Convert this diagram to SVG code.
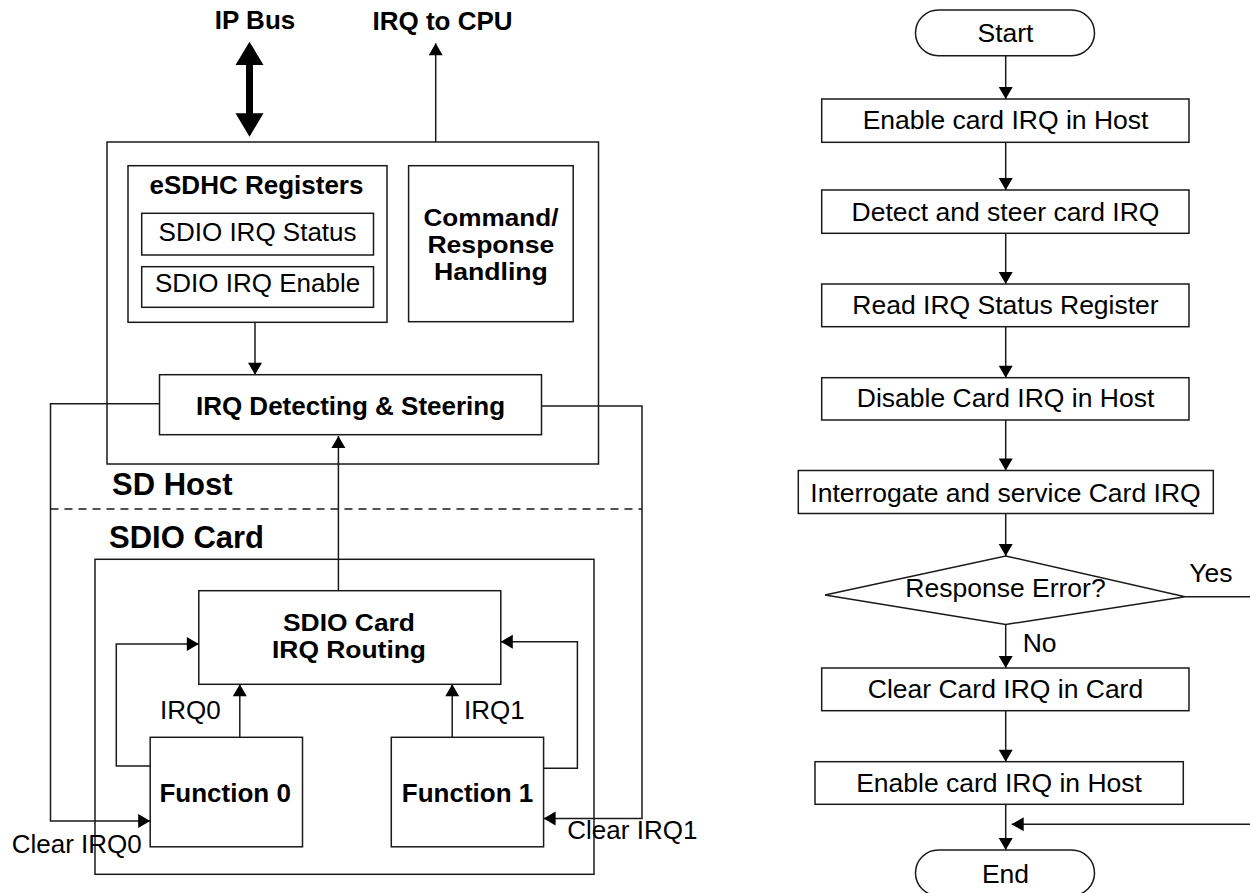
<svg xmlns="http://www.w3.org/2000/svg" width="1250" height="893" viewBox="0 0 1250 893">
<defs>
<marker id="ah" markerUnits="userSpaceOnUse" markerWidth="12" markerHeight="14" refX="12" refY="7" orient="auto" overflow="visible">
<path d="M0,0 L12,7 L0,14 z" fill="#000"/>
</marker>
<style>
.b{fill:#fff;stroke:#1a1a1a;stroke-width:1.5}
.w{fill:none;stroke:#1a1a1a;stroke-width:1.5}
.a{fill:none;stroke:#1a1a1a;stroke-width:1.5;marker-end:url(#ah)}
.t{font-family:"Liberation Sans",Arial,sans-serif;font-size:26px;fill:#000}
.tb{font-family:"Liberation Sans",Arial,sans-serif;font-size:26px;font-weight:bold;fill:#000}
.tm{font-family:"Liberation Sans",Arial,sans-serif;font-size:23px;font-weight:bold;fill:#000}
.tl{font-family:"Liberation Sans",Arial,sans-serif;font-size:31px;font-weight:bold;fill:#000}
.f{font-family:"Liberation Sans",Arial,sans-serif;font-size:26.5px;fill:#000}
.m{text-anchor:middle}
</style>
</defs>
<rect width="1250" height="893" fill="#fff"/>

<!-- Left block diagram -->
<g id="labels-top">
<text class="tb m" x="255" y="29">IP Bus</text>
<text class="tb m" x="442.5" y="30">IRQ to CPU</text>
</g>
<g id="sd-host">
<rect class="b" x="107" y="142" width="491.5" height="322"/>
<text class="tl" x="112" y="495">SD Host</text>
</g>
<g id="esdhc-registers">
<rect class="b" x="128" y="165.7" width="259" height="156.6"/>
<text class="tb m" x="256.5" y="193.5">eSDHC Registers</text>
</g>
<g id="sdio-irq-status">
<rect class="b" x="141.7" y="213.3" width="231.8" height="41.7"/>
<text class="t m" x="257.6" y="240.7">SDIO IRQ Status</text>
</g>
<g id="sdio-irq-enable">
<rect class="b" x="141.7" y="266.7" width="231.8" height="40.6"/>
<text class="t m" x="257.6" y="292.3">SDIO IRQ Enable</text>
</g>
<g id="command-response">
<rect class="b" x="408.6" y="165.7" width="164.6" height="156"/>
<text class="tm m" x="490.9" y="226" textLength="135" lengthAdjust="spacingAndGlyphs">Command/</text>
<text class="tm m" x="490.9" y="253" textLength="127" lengthAdjust="spacingAndGlyphs">Response</text>
<text class="tm m" x="490.9" y="280" textLength="114" lengthAdjust="spacingAndGlyphs">Handling</text>
</g>
<g id="irq-detecting">
<rect class="b" x="159.5" y="374.7" width="382" height="60"/>
<text class="tb m" x="350.5" y="415">IRQ Detecting &amp; Steering</text>
</g>
<g id="sdio-card">
<rect class="b" x="95" y="559.3" width="499" height="315"/>
<text class="tl" x="109" y="548">SDIO Card</text>
</g>
<g id="irq-routing">
<rect class="b" x="198.8" y="590.7" width="302" height="93.6"/>
<text class="tm m" x="349" y="631" textLength="132" lengthAdjust="spacingAndGlyphs">SDIO Card</text>
<text class="tm m" x="349" y="658" textLength="154" lengthAdjust="spacingAndGlyphs">IRQ Routing</text>
</g>
<g id="function0">
<rect class="b" x="150.2" y="737.3" width="152.3" height="109.5"/>
<text class="tb m" x="225.2" y="801.7">Function 0</text>
</g>
<g id="function1">
<rect class="b" x="391.3" y="737.3" width="152.3" height="109.5"/>
<text class="tb m" x="467.5" y="801.7">Function 1</text>
</g>

<g id="connectors">
<polygon points="249.5,41.7 263.5,65 253,65 253,113.3 263.5,113.3 249.5,136.7 235.5,113.3 246,113.3 246,65 235.5,65" fill="#000"/>
<line class="a" x1="435.7" y1="142" x2="435.7" y2="43.3"/>
<line class="a" x1="255" y1="322.3" x2="255" y2="374.7"/>
<line class="a" x1="338.4" y1="590.7" x2="338.4" y2="436"/>
<polyline class="a" points="159.5,403.7 50.5,403.7 50.5,821 150.2,821"/>
<polyline class="a" points="541.5,406 642,406 642,818.5 543.6,818.5"/>
<line class="w" x1="50.5" y1="509" x2="642" y2="509" stroke-dasharray="8 6"/>
<line class="a" x1="239.8" y1="737.3" x2="239.8" y2="684.3"/>
<line class="a" x1="452.2" y1="737.3" x2="452.2" y2="684.3"/>
<polyline class="a" points="150.2,766 116.3,766 116.3,644 198.8,644"/>
<polyline class="a" points="543.6,768.3 577.4,768.3 577.4,641.7 500.8,641.7"/>

<!-- flowchart connectors -->
<line class="a" x1="1005.7" y1="55.7" x2="1005.7" y2="99"/>
<line class="a" x1="1005.7" y1="142.3" x2="1005.7" y2="190"/>
<line class="a" x1="1005.7" y1="233.3" x2="1005.7" y2="284"/>
<line class="a" x1="1005.7" y1="326.7" x2="1005.7" y2="377.7"/>
<line class="a" x1="1005.7" y1="420" x2="1005.7" y2="470.5"/>
<line class="a" x1="1005.7" y1="513.5" x2="1005.7" y2="556"/>
<line class="w" x1="1185" y1="596.7" x2="1250" y2="596.7"/>
<line class="a" x1="1005.7" y1="624.5" x2="1005.7" y2="668"/>
<line class="a" x1="1005.7" y1="710.7" x2="1005.7" y2="761.7"/>
<line class="a" x1="1005.7" y1="804.3" x2="1005.7" y2="850"/>
<line class="a" x1="1250" y1="824.3" x2="1011.7" y2="824.3"/>
</g>
<g id="connector-labels">
<text class="t" x="160" y="719">IRQ0</text>
<text class="t" x="464" y="719">IRQ1</text>
<text class="t" x="11.7" y="853">Clear IRQ0</text>
<text class="t" x="567.3" y="838.5">Clear IRQ1</text>
<text class="f" x="1189.3" y="581.7">Yes</text>
<text class="f" x="1022.7" y="652.3">No</text>
</g>

<!-- Flowchart -->
<g id="start">
<rect class="b" x="915.5" y="10" width="179" height="45.7" rx="22.8" ry="22.8"/>
<text class="f m" x="1005.5" y="41.7">Start</text>
</g>
<g id="step1">
<rect class="b" x="821.7" y="99" width="367.3" height="43.3"/>
<text class="f m" x="1005.5" y="129.3">Enable card IRQ in Host</text>
</g>
<g id="step2">
<rect class="b" x="821.7" y="190" width="367.3" height="43.3"/>
<text class="f m" x="1005.5" y="220.7">Detect and steer card IRQ</text>
</g>
<g id="step3">
<rect class="b" x="821.7" y="284" width="367.3" height="42.7"/>
<text class="f m" x="1005.5" y="314.3">Read IRQ Status Register</text>
</g>
<g id="step4">
<rect class="b" x="821.7" y="377.7" width="367.3" height="42.3"/>
<text class="f m" x="1005.5" y="407.3">Disable Card IRQ in Host</text>
</g>
<g id="step5">
<rect class="b" x="798.3" y="470.5" width="415" height="43"/>
<text class="f m" x="1005.5" y="501.7">Interrogate and service Card IRQ</text>
</g>
<g id="decision">
<polygon class="b" points="1005.7,556 1185,596.7 1005.7,624.5 825,595"/>
<text class="f m" x="1005.5" y="597.3">Response Error?</text>
</g>
<g id="step6">
<rect class="b" x="821.7" y="668" width="367.3" height="42.7"/>
<text class="f m" x="1005.5" y="698.3">Clear Card IRQ in Card</text>
</g>
<g id="step7">
<rect class="b" x="815" y="761.7" width="368.3" height="42.6"/>
<text class="f m" x="999" y="791.7">Enable card IRQ in Host</text>
</g>
<g id="end">
<rect class="b" x="915.5" y="850" width="179" height="45.7" rx="22.8" ry="22.8"/>
<text class="f m" x="1005.5" y="882.7">End</text>
</g>
</svg>
